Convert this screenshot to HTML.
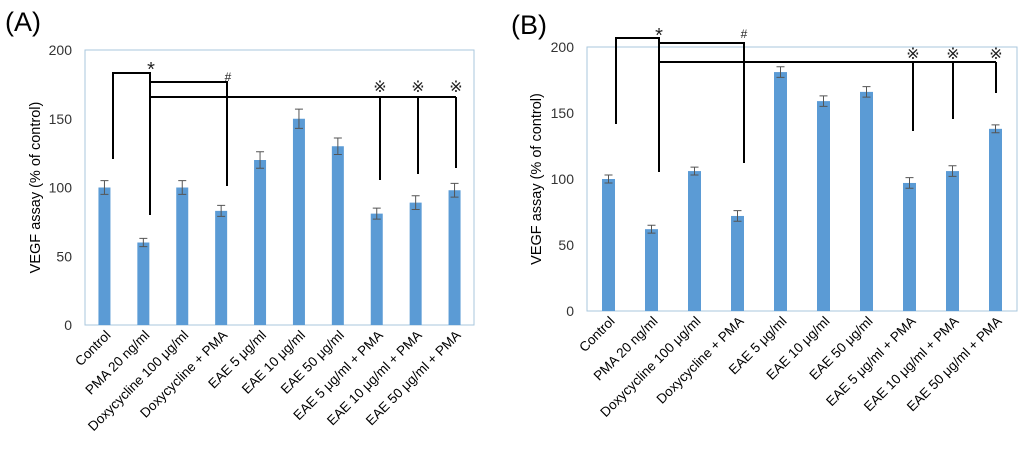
<!DOCTYPE html>
<html><head><meta charset="utf-8"><style>
html,body{margin:0;padding:0;background:#fff;}
svg{display:block;font-family:"Liberation Sans","DejaVu Sans",sans-serif;}
</style></head><body>
<svg id="fig" width="1024" height="452" viewBox="0 0 1024 452"></svg>
<script>
const categories = ["Control","PMA 20 ng/ml","Doxycycline 100 μg/ml","Doxycycline + PMA","EAE 5 μg/ml","EAE 10 μg/ml","EAE 50 μg/ml","EAE 5 μg/ml + PMA","EAE 10 μg/ml + PMA","EAE 50 μg/ml + PMA"];
const valuesA = [100, 60, 100, 83, 120, 150, 130, 81, 89, 98];
const errorsA = [5, 3, 5, 4, 6, 7, 6, 4, 5, 5];
const valuesB = [100, 62, 106, 72, 181, 159, 166, 97, 106, 138];
const errorsB = [3, 3, 3, 4, 4, 4, 4, 4, 4, 3];
const yTicks = [0, 50, 100, 150, 200];

const NS = "http://www.w3.org/2000/svg";
const svg = document.getElementById("fig");
function mk(tag, attrs, parent, text){
  const e = document.createElementNS(NS, tag);
  for (const k in attrs) e.setAttribute(k, attrs[k]);
  if (text !== undefined) e.textContent = text;
  (parent || svg).appendChild(e);
  return e;
}

function panel(cfg){
  const g = mk("g", {});
  
  
  const L = cfg.left, R = cfg.right, T = cfg.top, B = cfg.bottom;
  const yS = v => B - (v / 200) * (B - T);
  const step = (R - L) / categories.length;
  const xS = i => L + step * (i + 0.5);

  const lbl = mk("text", {x: cfg.labelX, y: cfg.labelY, "font-size": 27, fill: "#000"}, g, "(" + cfg.id + ")");
  
  

  const frame = mk("rect", {x: L, y: T, width: R - L, height: B - T, fill: "none", stroke: "#a9c7de", "stroke-width": 1}, g);
  
  

  yTicks.forEach(t => {
    const tx = mk("text", {x: L - 13, y: yS(t) + 5, "font-size": 14, fill: "#333", "text-anchor": "end"}, g, String(t));
    
    
  });

  const yt = mk("text", {x: 0, y: 0, "font-size": 14.5, fill: "#000", "text-anchor": "middle",
    transform: "translate(" + cfg.titleX + "," + ((T + B) / 2) + ") rotate(-90)"}, g, "VEGF assay (% of control)");
  
  

  cfg.values.forEach((v, i) => {
    const cx = xS(i);
    const bar = mk("rect", {x: cx - cfg.bw / 2, y: yS(v), width: cfg.bw, height: B - yS(v), fill: "#5b9bd5"}, g);
    
    
    const e = cfg.errors[i];
    const eb = mk("path", {d: "M" + cx + "," + yS(v + e) + "V" + yS(v - e) +
      "M" + (cx - 4) + "," + yS(v + e) + "H" + (cx + 4) +
      "M" + (cx - 4) + "," + yS(v - e) + "H" + (cx + 4), stroke: "#555", "stroke-width": 1, fill: "none"}, g);
    
    
    const cl = mk("text", {x: 0, y: 0, "font-size": 13.5, fill: "#000", "text-anchor": "end",
      transform: "translate(" + (cx + 7) + "," + (B + 11) + ") rotate(-45)"}, g, categories[i]);
    
    
  });

  cfg.brackets.forEach(d => {
    const p = mk("path", {d: d, stroke: "#000", "stroke-width": 2, fill: "none"}, g);
    
    
  });
  cfg.marks.forEach(m => {
    const t = mk("text", {x: m[0], y: m[1], "font-size": m[3], fill: "#222", "text-anchor": "middle"}, g, m[2]);
    
    
  });
}

panel({id: "A", left: 85, right: 474, top: 50, bottom: 325, bw: 12, labelX: 5, labelY: 31, titleX: 40,
  values: valuesA, errors: errorsA,
  brackets: ["M113,159V73H150V215", "M150,82H227V186", "M150,97H456", "M380,97V180", "M418,97V174", "M456,97V168"],
  marks: [[151,76,"*",20],[228,81,"#",12],[380,92,"※",16],[418,92,"※",16],[456,92,"※",16]]});

panel({id: "B", left: 587, right: 1017, top: 47, bottom: 311, bw: 13, labelX: 511, labelY: 34, titleX: 541,
  values: valuesB, errors: errorsB,
  brackets: ["M616,124V38H659V172", "M659,43H744V163", "M659,62H996", "M913,62V131", "M953,62V119", "M996,62V93"],
  marks: [[659,42,"*",20],[744,38,"#",12],[913,59,"※",16],[953,59,"※",16],[996,59,"※",16]]});
</script>
</body></html>
